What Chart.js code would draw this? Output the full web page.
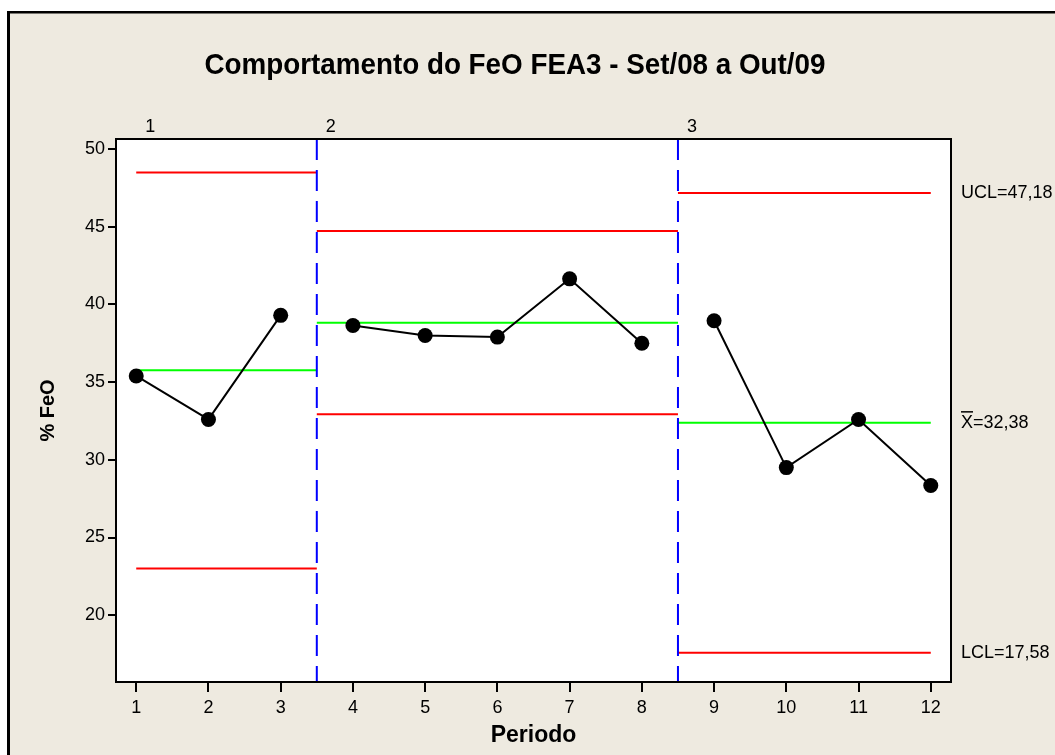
<!DOCTYPE html>
<html>
<head>
<meta charset="utf-8">
<script src="https://cdn.jsdelivr.net/npm/chart.js@4"></script>
<style>
  body { margin: 0; background: #fff; }
  canvas { display: block; }
</style>
</head>
<body>
<canvas id="myChart" width="1055" height="755"></canvas>
<script>
const chartTitle = 'Comportamento do FeO FEA3 - Set/08 a Out/09'
const periods = [1, 2, 3, 4, 5, 6, 7, 8, 9, 10, 11, 12]
const feo = [35.4, 32.6, 39.3, 38.65, 38.0, 37.9, 41.65, 37.5, 38.95, 29.5, 32.6, 28.35]
const stageOf = [1, 1, 1, 2, 2, 2, 2, 2, 3, 3, 3, 3]
const stageNames = ['1', '2', '3']
const stageStart = [1, 3.5, 8.5]
const stageEnd = [3.5, 8.5, 12]
const ucl = [48.5, 44.73, 47.18]
const center = [35.77, 38.83, 32.38]
const lcl = [23.0, 32.94, 17.58]
const yTicks = [20, 25, 30, 35, 40, 45, 50]
const yMin = 15.7, yMax = 50.65
const xMin = 0.72, xMax = 12.28

const FONT = '"Liberation Sans", Arial, sans-serif'
const fmt = v => v.toFixed(2).replace('.', ',')

const datasets = []
// FeO points, no line between stages
datasets.push({
    data: periods.map((p, i) => ({ x: p, y: feo[i] })),
    showLine: true,
    borderColor: '#000',
    borderWidth: 2,
    pointRadius: 7.5,
    pointBackgroundColor: '#000',
    pointBorderWidth: 0,
    segment: {
        borderColor: c => stageOf[c.p0DataIndex] !== stageOf[c.p1DataIndex] ? 'rgba(0,0,0,0)' : '#000'
    },
    order: 0
})
// control limits per stage
for (let s = 0; s < stageNames.length; s++) {
    const lim = [[ucl[s], '#ff0000'], [center[s], '#00ff00'], [lcl[s], '#ff0000']]
    lim.forEach(([v, col]) => {
        datasets.push({
            data: [{ x: stageStart[s], y: v }, { x: stageEnd[s], y: v }],
            showLine: true, borderColor: col, borderWidth: 2, pointRadius: 0, order: 2
        })
    })
}
// stage separators (drawn top to bottom so the dash starts at the top)
for (let s = 1; s < stageStart.length; s++) {
    datasets.push({
        data: [{ x: stageStart[s], y: yMax }, { x: stageStart[s], y: yMin }],
        showLine: true, borderColor: '#0000ff', borderWidth: 2, borderDash: [21, 10], pointRadius: 0, order: 1
    })
}

const decor = {
    id: 'decor',
    beforeDraw(chart) {
        const ctx = chart.ctx, a = chart.chartArea
        ctx.save()
        ctx.fillStyle = '#fff'
        ctx.fillRect(0, 0, chart.width, chart.height)
        ctx.fillStyle = '#eeeae0'
        ctx.fillRect(8, 12, chart.width, chart.height)
        ctx.fillStyle = '#000'
        ctx.fillRect(7, 11, 3, chart.height)
        ctx.fillRect(7, 11, chart.width, 2.5)
        ctx.fillStyle = '#fff'
        ctx.fillRect(a.left, a.top, a.right - a.left, a.bottom - a.top)
        ctx.restore()
    },
    afterDraw(chart) {
        const ctx = chart.ctx, a = chart.chartArea
        const xs = chart.scales.x, ys = chart.scales.y
        ctx.save()
        ctx.strokeStyle = '#000'
        ctx.lineWidth = 2
        ctx.strokeRect(a.left, a.top, a.right - a.left, a.bottom - a.top)

        // title
        ctx.fillStyle = '#000'
        ctx.font = 'bold 30px ' + FONT
        const w = ctx.measureText(chartTitle).width
        ctx.save()
        ctx.translate(515, 66)
        ctx.scale(621 / w, 1)
        ctx.textAlign = 'center'
        ctx.textBaseline = 'middle'
        ctx.fillText(chartTitle, 0, 0)
        ctx.restore()

        // stage labels
        ctx.font = '18px ' + FONT
        ctx.textAlign = 'left'
        ctx.textBaseline = 'middle'
        stageNames.forEach((n, s) => {
            ctx.fillText(n, xs.getPixelForValue(stageStart[s]) + 9, a.top - 12)
        })

        // limit labels of last stage
        const last = stageNames.length - 1
        const lx = a.right + 10
        ctx.fillText('UCL=' + fmt(ucl[last]), lx, ys.getPixelForValue(ucl[last]))
        const cy = ys.getPixelForValue(center[last])
        ctx.fillText('X=' + fmt(center[last]), lx, cy)
        const xw = ctx.measureText('X').width
        ctx.lineWidth = 1.5
        ctx.beginPath()
        ctx.moveTo(lx, cy - 11)
        ctx.lineTo(lx + xw, cy - 11)
        ctx.stroke()
        ctx.fillText('LCL=' + fmt(lcl[last]), lx, ys.getPixelForValue(lcl[last]))
        ctx.restore()
    }
}

const ctx = document.getElementById('myChart')
new Chart(ctx, {
    type: 'scatter',
    data: { datasets: datasets },
    options: {
        responsive: false,
        animation: false,
        layout: { padding: { left: 20, top: 139, right: 104, bottom: 0 } },
        plugins: { legend: { display: false }, tooltip: { enabled: false } },
        scales: {
            x: {
                type: 'linear', min: xMin, max: xMax,
                afterFit: s => { s.height = 73 },
                afterBuildTicks: s => { s.ticks = periods.map(v => ({ value: v })) },
                grid: { drawOnChartArea: false, drawTicks: true, tickLength: 10, color: '#000', lineWidth: 2 },
                border: { display: false },
                ticks: { color: '#000', font: { family: FONT, size: 18 }, padding: 5, maxRotation: 0 },
                title: { display: true, text: 'Periodo', color: '#000', font: { family: FONT, size: 23, weight: 'bold' }, padding: { top: 0, bottom: 6 } }
            },
            y: {
                type: 'linear', min: yMin, max: yMax,
                afterFit: s => { s.width = 96 },
                afterBuildTicks: s => { s.ticks = yTicks.map(v => ({ value: v })) },
                grid: { drawOnChartArea: false, drawTicks: true, tickLength: 8, color: '#000', lineWidth: 2 },
                border: { display: false },
                ticks: { color: '#000', font: { family: FONT, size: 18 }, padding: 3 },
                title: { display: true, text: '% FeO', color: '#000', font: { family: FONT, size: 20, weight: 'bold' }, padding: { top: 16, bottom: 0 } }
            }
        }
    },
    plugins: [decor]
})
</script>
</body>
</html>
